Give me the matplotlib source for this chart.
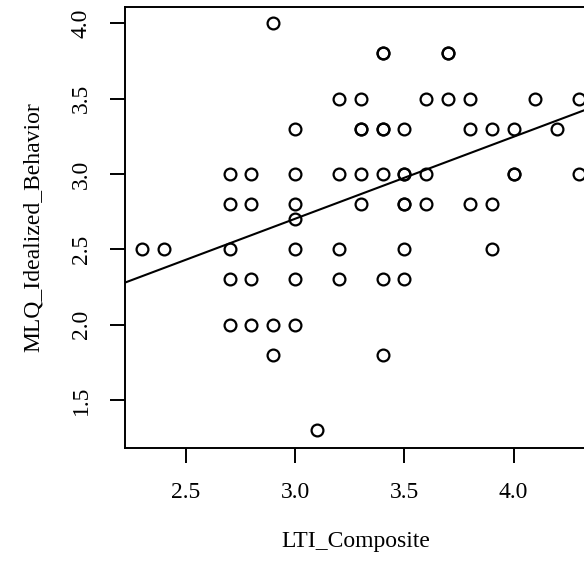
import matplotlib.pyplot as plt
import numpy as np

plt.rcParams['font.family'] = ['Liberation Serif', 'DejaVu Serif']

# LTI_Composite / MLQ_Idealized_Behavior pairs
lti = [2.9,
       3.4, 3.4, 3.7, 3.7,
       3.2, 3.3, 3.6, 3.7, 3.8, 4.1, 4.3,
       3.0, 3.3, 3.3, 3.4, 3.4, 3.5, 3.8, 3.9, 4.0, 4.2,
       2.7, 2.8, 3.0, 3.2, 3.3, 3.4, 3.5, 3.5, 3.6, 4.0, 4.0, 4.3,
       2.7, 2.8, 3.0, 3.3, 3.5, 3.5, 3.6, 3.8, 3.9,
       3.0,
       2.3, 2.4, 2.7, 3.0, 3.2, 3.5, 3.9,
       2.7, 2.8, 3.0, 3.2, 3.4, 3.5,
       2.7, 2.8, 2.9, 3.0,
       2.9, 3.4,
       3.1]
mlq = [4.0,
       3.8, 3.8, 3.8, 3.8,
       3.5, 3.5, 3.5, 3.5, 3.5, 3.5, 3.5,
       3.3, 3.3, 3.3, 3.3, 3.3, 3.3, 3.3, 3.3, 3.3, 3.3,
       3.0, 3.0, 3.0, 3.0, 3.0, 3.0, 3.0, 3.0, 3.0, 3.0, 3.0, 3.0,
       2.8, 2.8, 2.8, 2.8, 2.8, 2.8, 2.8, 2.8, 2.8,
       2.7,
       2.5, 2.5, 2.5, 2.5, 2.5, 2.5, 2.5,
       2.3, 2.3, 2.3, 2.3, 2.3, 2.3,
       2.0, 2.0, 2.0, 2.0,
       1.8, 1.8,
       1.3]

x = np.array(lti)
y = np.array(mlq)
slope, intercept = np.polyfit(x, y, 1)

fig = plt.figure(figsize=(5.84, 5.65), dpi=100)
ax = fig.add_axes([0.214, 0.2076, 0.79, 0.7795])

ax.plot(x, y, 'o', mfc='none', mec='black', ms=8.5, mew=1.6)
ax.axline((0, intercept), slope=slope, color='black', lw=1.5)

ax.set_xlim(2.221, 4.333)
ax.set_ylim(1.184, 4.106)
ax.set_xticks([2.5, 3.0, 3.5, 4.0])
ax.set_yticks([1.5, 2.0, 2.5, 3.0, 3.5, 4.0])

for s in ax.spines.values():
    s.set_linewidth(1.4)
ax.spines['right'].set_visible(False)

ax.tick_params(length=10.8, width=1.4, labelsize=17)
ax.tick_params(axis='x', pad=14)
ax.tick_params(axis='y', pad=13, labelrotation=90)
for lab in ax.get_yticklabels():
    lab.set_va('center')

ax.set_xlabel('LTI_Composite', fontsize=17)
ax.set_ylabel('MLQ_Idealized_Behavior', fontsize=17)
ax.xaxis.set_label_coords(0.5, -0.19)
ax.yaxis.set_label_coords(-0.175, 0.5)

fig.savefig('out.png', dpi=100)
